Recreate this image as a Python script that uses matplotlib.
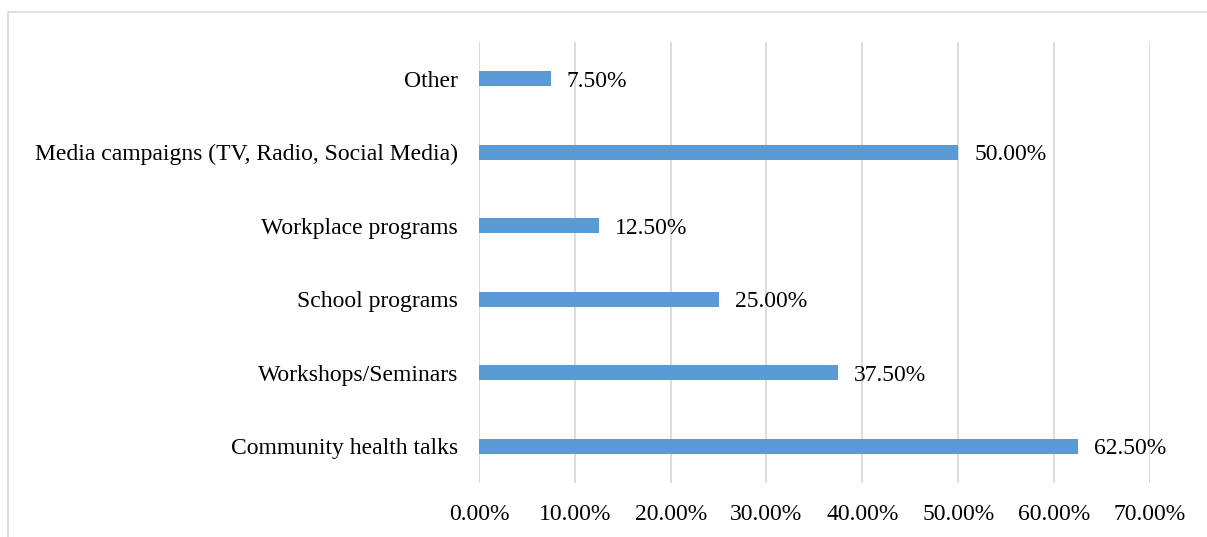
import matplotlib
matplotlib.use('Agg')
import matplotlib.pyplot as plt
from matplotlib.patches import Rectangle

# Survey data: preferred awareness channels (share of respondents)
categories = ['Community health talks', 'Workshops/Seminars', 'School programs',
              'Workplace programs', 'Media campaigns (TV, Radio, Social Media)', 'Other']
shares = [62.5, 37.5, 25.0, 12.5, 50.0, 7.5]
xTicks = [0, 10, 20, 30, 40, 50, 60, 70]

barColor = '#5B9BD5'
gridColor = '#D9D9D9'
fontSize = 17
plt.rcParams['font.family'] = ['Liberation Serif', 'DejaVu Serif']

fig = plt.figure(figsize=(12.07, 5.37), dpi=100)
ax = fig.add_axes([0.3968, 0.1006, 0.5559, 0.8212])

# Chart border (light gray frame)
fig.patches.append(Rectangle((7.5 / 1207, -0.1), 1.2, 1 - 12 / 537 + 0.1,
                             transform=fig.transFigure, fill=False,
                             edgecolor=gridColor, linewidth=1.2))

yPos = list(range(len(categories)))
ax.barh(yPos, shares, height=0.2, color=barColor, zorder=3)

for y, v in zip(yPos, shares):
    ax.annotate('{:.2f}%'.format(v), xy=(v, y), xytext=(11.5, 0),
                textcoords='offset points', va='center_baseline', ha='left',
                fontsize=fontSize)

ax.set_xlim(0, 70)
ax.set_ylim(-0.5, len(categories) - 0.5)
ax.set_xticks(xTicks)
ax.set_xticklabels(['{:.2f}%'.format(t) for t in xTicks], fontsize=fontSize)
ax.set_yticks(yPos)
ax.set_yticklabels(categories, fontsize=fontSize)
for lbl in ax.get_yticklabels():
    lbl.set_verticalalignment('center_baseline')
ax.tick_params(axis='both', length=0)
ax.tick_params(axis='x', pad=15)
ax.tick_params(axis='y', pad=15)
ax.xaxis.grid(True, color=gridColor, linewidth=1.3, zorder=0)
ax.set_axisbelow(True)
for side in ['top', 'right', 'bottom', 'left']:
    ax.spines[side].set_visible(False)

fig.savefig('out.png', dpi=100)
